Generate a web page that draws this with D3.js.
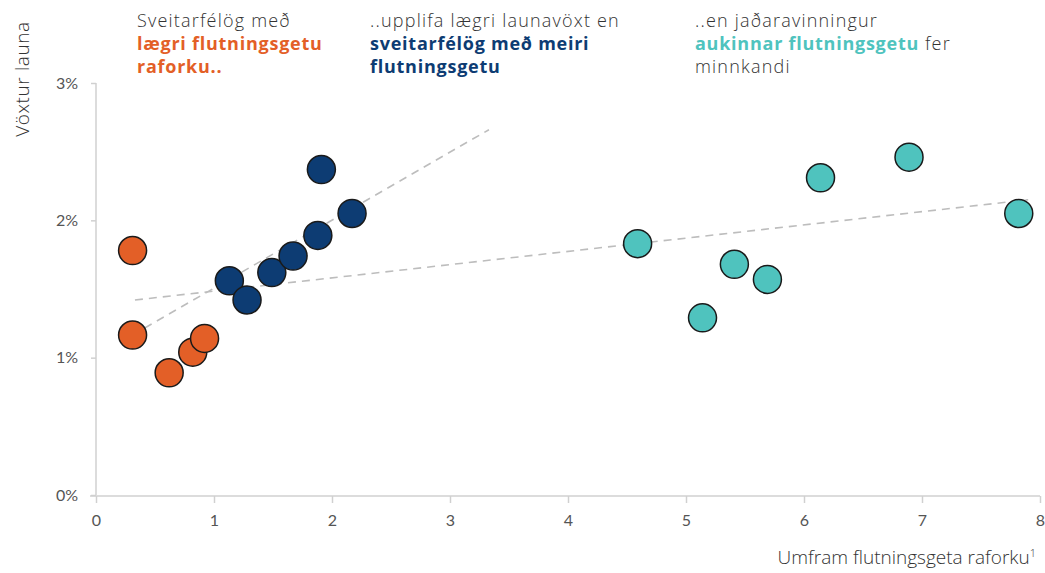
<!DOCTYPE html>
<html><head><meta charset="utf-8">
<script src="https://cdn.jsdelivr.net/npm/d3@7/dist/d3.min.js"></script>
<style>
body{margin:0;background:#fff;}
text{font-family:Lato,"Open Sans",sans-serif;}
</style></head>
<body><svg id="c" width="1045" height="573"></svg>
<script>
const xTicks=[0,1,2,3,4,5,6,7,8];
const yTicks=[0,1,2,3];
const lowX=[0.31,0.31,0.62,0.82,0.92];
const lowY=[1.78,1.165,0.89,1.04,1.14];
const midX=[1.13,1.28,1.49,1.67,1.88,1.91,2.17];
const midY=[1.56,1.42,1.62,1.74,1.89,2.37,2.05];
const highX=[4.59,5.14,5.41,5.69,6.14,6.89,7.82];
const highY=[1.83,1.29,1.68,1.57,2.31,2.46,2.05];
const trendSteep=[[0.31,1.165],[3.33,2.66]];
const trendFlat=[[0.33,1.42],[7.9,2.15]];
const colors={low:"#E35F27",mid:"#0D3C73",high:"#4FC3BE"};

const svg=d3.select("#c");
const x=d3.scaleLinear().domain([0,8]).range([96,1040]);
const y=d3.scaleLinear().domain([0,3]).range([495,83]);

// axes
const yAxis=svg.append("g").attr("transform","translate(96,0)")
  .call(d3.axisLeft(y).tickValues(yTicks).tickFormat(d=>d+"%").tickSize(5).tickPadding(13));
const xAxis=svg.append("g").attr("transform","translate(0,496)")
  .call(d3.axisBottom(x).tickValues(xTicks).tickSize(7).tickPadding(12));
[xAxis,yAxis].forEach(g=>{
  g.select(".domain").attr("stroke","#d0d0d0").attr("stroke-width",1.5);
  g.selectAll(".tick line").attr("stroke","#d0d0d0").attr("stroke-width",1.5);
  g.selectAll(".tick text").attr("fill","#555").style("font-size","16px").style("font-family","Lato,sans-serif");
});
xAxis.select(".domain").attr("d","M90,0H1040");
yAxis.select(".domain").attr("d","M0,"+y(3)+"V"+y(0));

// trend lines
const line=d3.line().x(d=>x(d[0])).y(d=>y(d[1]));
[trendSteep,trendFlat].forEach(t=>{
  svg.append("path").attr("d",line(t)).attr("fill","none")
   .attr("stroke","#bdbdbd").attr("stroke-width",1.6).attr("stroke-dasharray","8,6");
});

// points
function dots(xs,ys,col){
  svg.append("g").selectAll("circle").data(xs.map((v,i)=>[v,ys[i]])).join("circle")
   .attr("cx",d=>x(d[0])).attr("cy",d=>y(d[1])).attr("r",14)
   .attr("fill",col).attr("stroke","#1a1a1a").attr("stroke-width",1.5);
}
dots(lowX,lowY,colors.low);
dots(midX,midY,colors.mid);
dots(highX,highY,colors.high);

// axis titles
svg.append("text").attr("transform","translate(29,79) rotate(-90)").attr("text-anchor","middle")
  .attr("fill","#333").style("font-size","19px").style("letter-spacing","0.6px").style("font-family","'Open Sans',sans-serif").style("font-weight",300).text("Vöxtur launa");
svg.append("text").attr("x",1036).attr("y",564).attr("text-anchor","end")
  .attr("fill","#333").style("font-size","19px").style("font-weight",300).style("font-family","'Open Sans',sans-serif")
  .html('Umfram flutningsgeta raforku<tspan font-size="11" dy="-7">1</tspan>');

// annotations
function anno(x0,lines){
  const t=svg.append("text").attr("x",x0).attr("y",27).style("font-size","18px").style("font-family","'Open Sans',sans-serif");
  lines.forEach((ln,i)=>{
    ln.forEach((seg,j)=>{
      const ts=t.append("tspan").text(seg[0]).attr("fill",seg[1]||"#333")
        .attr("font-weight",seg[1]?700:300)
        .style("letter-spacing",seg[1]?"0.75px":"1.2px");
      if(j===0) ts.attr("x",x0).attr("dy",i===0?0:23);
    });
  });
}
anno(137,[[["Sveitarfélög með"]],[["lægri flutningsgetu",colors.low]],[["raforku..",colors.low]]]);
anno(370,[[["..upplifa lægri launavöxt en"]],[["sveitarfélög með meiri",colors.mid]],[["flutningsgetu",colors.mid]]]);
anno(695,[[["..en jaðaravinningur"]],[["aukinnar flutningsgetu",colors.high],[" fer"]],[["minnkandi"]]]);
</script></body></html>
